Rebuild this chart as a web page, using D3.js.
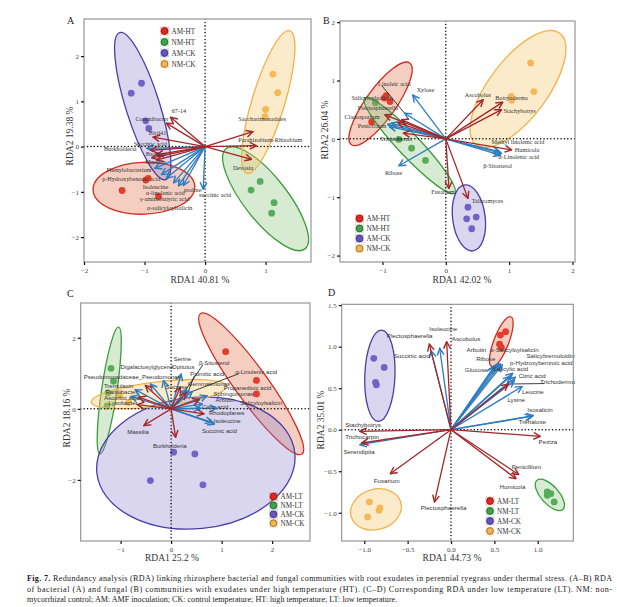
<!DOCTYPE html>
<html><head><meta charset="utf-8">
<script src="https://d3js.org/d3.v7.min.js"></script>
<style>
  body { margin:0; background:#fff; }
  svg { display:block; font-family:"Liberation Serif","Times New Roman",serif; }
</style>
</head>
<body>
<svg id="fig" width="617" height="607"></svg>
<script>
// ---- groups and colours ----
const groupsHT = ["AM-HT","NM-HT","AM-CK","NM-CK"];
const groupsLT = ["AM-LT","NM-LT","AM-CK","NM-CK"];
const ptCol   = ["#e3261f","#3fa34d","#6553c0","#f3b54f"];
const ellFill = ["#e06a45","#84c376","#9084ce","#f6c362"];
const ellLine = ["#d42a20","#3b9c3b","#4a3da6","#f1b24a"];
const arrowCol = {s:"#a3262a", e:"#2e7cc1"};

// ---- panel A: bacteria vs exudates, high temperature ----
const sitesA = [
  ["AM-HT",-1.37,-0.97],["AM-HT",-0.98,-0.74],["AM-HT",-0.94,-0.70],["AM-HT",-0.77,-1.10],
  ["NM-HT",0.91,-0.77],["NM-HT",0.76,-0.96],["NM-HT",1.14,-1.24],["NM-HT",1.10,-1.47],
  ["AM-CK",-1.05,1.40],["AM-CK",-1.22,1.18],["AM-CK",-0.98,0.57],["AM-CK",-0.93,0.40],
  ["NM-CK",1.12,1.60],["NM-CK",1.20,1.19],["NM-CK",1.00,0.82],["NM-CK",0.99,0.66]
];
// group, major axis end 1 (x,y), end 2 (x,y), minor/major ratio
const ellA = [
  ["AM-HT",-1.85,-0.96,-0.17,-0.88,0.51],
  ["NM-HT",0.35,-0.04,1.65,-2.26,0.34],
  ["AM-CK",-1.41,2.52,-0.65,-0.73,0.22],
  ["NM-CK",1.40,2.56,0.69,-0.59,0.22]
];
// name, type (s species / e exudate), arrow tip x,y, label x,y, leader line
const loadA = [
  ["γ-aminobutyric acid","e",-0.52,-0.80,-1.08,-1.16],
  ["α-salicyloylsalicin","e",-0.44,-0.87,-0.96,-1.35],
  ["α-linolenic acid","e",-0.64,-0.70,-0.98,-1.02],
  ["Isoleucine","e",-0.72,-0.62,-1.03,-0.88],
  ["p-Hydroxybenzoic acid","e",-0.83,-0.48,-1.70,-0.71],
  ["Succinic acid","e",-0.96,-0.04,-1.18,0.07],
  ["proline","e",-0.36,-0.86,-0.35,-0.96],
  ["succinic acid","e",-0.03,-0.94,-0.10,-1.07],
  ["67-14","s",-0.57,0.65,-0.55,0.78],
  ["Conexibacter","s",-0.64,0.52,-1.15,0.62],
  ["Blrii41","s",-0.86,0.21,-0.93,0.31],
  ["Burkholderia","s",-0.90,-0.08,-1.67,-0.05],
  ["Bacillus","s",-0.80,-0.18,-0.98,-0.17],
  ["Massilia","s",-0.88,-0.25,-0.99,-0.34],
  ["Phenylobacterium","s",-0.80,-0.30,-1.63,-0.51],
  ["Saccharimonadales","s",0.79,0.33,0.55,0.61],
  ["Parahizobium-Rhizobium","s",0.85,0.02,0.55,0.16],
  ["Devosia","s",0.77,-0.28,0.46,-0.48]
];

// ---- panel B: fungi vs exudates, high temperature ----
const sitesB = [
  ["AM-HT",-0.94,0.74],["AM-HT",-0.88,0.64],["AM-HT",-1.17,0.29],["AM-HT",-0.97,0.70],
  ["NM-HT",-1.11,0.62],["NM-HT",-0.74,-0.01],["NM-HT",-0.54,-0.16],["NM-HT",-0.32,-0.37],
  ["AM-CK",0.35,-1.17],["AM-CK",0.33,-1.37],["AM-CK",0.48,-1.34],["AM-CK",0.41,-1.54],
  ["NM-CK",1.34,1.30],["NM-CK",1.39,0.81],["NM-CK",1.03,0.73],["NM-CK",1.04,0.66]
];
const ellB = [
  ["AM-HT",-0.57,1.30,-1.49,-0.10,0.30],
  ["NM-HT",-1.28,0.70,0.14,-0.93,0.17],
  ["AM-CK",0.30,-0.79,0.43,-1.92,0.49],
  ["NM-CK",1.80,1.81,0.48,-0.10,0.42]
];
const loadB = [
  ["Salicyloylsalicin","e",-0.92,0.25,-1.49,0.71],
  ["","e",-0.89,0.21,-0.89,0.21],
  ["","e",-0.86,0.27,-0.86,0.27],
  ["Linoleic acid","e",-0.65,0.44,-1.07,0.94,1],
  ["Xylose","e",-0.52,0.75,-0.46,0.84],
  ["Ribose","e",-0.74,-0.46,-0.96,-0.59],
  ["Methyl linolenic acid","e",0.85,-0.22,0.72,-0.05],
  ["α-Linolenic acid","e",0.88,-0.25,0.83,-0.30],
  ["β-Sitosterol","e",0.86,-0.28,0.59,-0.46],
  ["Ascobolus","s",0.59,0.67,0.30,0.75],
  ["Botryoderma","s",0.90,0.63,0.78,0.71],
  ["Stachybotrys","s",0.88,0.50,0.91,0.48],
  ["Humicola","s",1.04,-0.19,1.09,-0.19],
  ["Talaromyces","s",0.35,-1.02,0.41,-1.07],
  ["Fusarium","s",0.05,-0.85,-0.23,-0.90],
  ["Trichoderma","s",-0.67,0.10,-1.04,0.00],
  ["Penicillium","s",-0.76,0.28,-1.39,0.22],
  ["Cladosporium","s",-0.70,0.33,-1.60,0.37],
  ["Plectosphaerella","s",-0.96,0.41,-1.39,0.53]
];

// ---- panel C: bacteria vs exudates, low temperature ----
const sitesC = [
  ["AM-LT",1.08,1.61],["AM-LT",1.69,0.80],["AM-LT",1.69,0.42],
  ["NM-LT",-1.19,1.14],["NM-LT",-1.14,0.78],["NM-LT",-1.25,0.45],["NM-LT",-1.27,0.08],
  ["AM-CK",0.05,-1.22],["AM-CK",0.47,-1.27],["AM-CK",-0.41,-2.02],["AM-CK",0.63,-2.14],
  ["NM-CK",-0.84,0.18],["NM-CK",-1.02,0.38]
];
const ellC = [
  ["AM-LT",0.58,2.68,2.59,-1.27,0.19],
  ["NM-LT",-1.04,2.30,-1.41,-1.27,0.12],
  ["AM-CK",-1.47,-1.80,2.45,-1.25,0.66],
  ["NM-CK",-1.58,0.19,1.10,0.64,0.18]
];
const loadC = [
  ["Tremulacin","e",-0.71,0.54,-1.33,0.66],
  ["Ascorbic acid","e",-0.80,0.35,-1.33,0.31],
  ["Digalactosylglycerol","e",-0.41,0.70,-1.00,1.17],
  ["Sucrose","e",-0.15,0.80,-0.11,0.62],
  ["Serine","e",0.20,0.98,0.05,1.41],
  ["Palmitic acid","e",0.35,0.52,0.38,0.99,1],
  ["β-Sitosterol","e",0.30,0.55,0.55,1.30,1],
  ["α-Linolenic acid","e",0.42,0.49,1.27,1.05,1],
  ["Propanedioic acid","e",0.71,0.37,1.04,0.58],
  ["Arbutin","e",0.62,0.14,0.88,0.26],
  ["Salicyloylsalicin","e",0.90,0.02,1.37,0.17],
  ["Citric acid","e",0.58,0.02,0.61,0.05],
  ["Isoleucine","e",0.81,-0.38,0.84,-0.33],
  ["Succinic acid","e",0.86,-0.43,0.61,-0.63],
  ["Pseudomonadaceae_Pseudomonas","s",-0.51,0.66,-1.73,0.89],
  ["Ramlibacter","s",-0.64,0.33,-1.30,0.49],
  ["Lysobacter","s",-0.67,0.12,-1.24,0.16],
  ["Massilia","s",-0.54,-0.47,-0.87,-0.66],
  ["Burkholderia","s",0.09,-0.80,-0.36,-1.03],
  ["Opitutus","s",0.18,0.61,0.02,1.17],
  ["Gemmatimonas","s",0.30,0.45,0.33,0.70],
  ["Sphingomonas","s",0.56,0.26,0.84,0.42],
  ["Rhodoplanes","s",0.65,-0.14,0.75,-0.12]
];

// ---- panel D: fungi vs exudates, low temperature ----
const sitesD = [
  ["AM-LT",0.57,1.14],["AM-LT",0.63,1.18],["AM-LT",0.56,1.03],["AM-LT",0.58,0.99],
  ["NM-LT",1.11,-0.75],["NM-LT",1.11,-0.79],["NM-LT",1.15,-0.77],["NM-LT",1.19,-0.87],
  ["AM-CK",-0.89,0.86],["AM-CK",-0.77,0.75],["AM-CK",-0.87,0.57],["AM-CK",-0.86,0.54],
  ["NM-CK",-0.94,-0.87],["NM-CK",-0.82,-0.94],["NM-CK",-0.83,-0.97],["NM-CK",-0.96,-1.05]
];
const ellD = [
  ["AM-LT",0.69,1.36,0.47,0.76,0.28],
  ["NM-LT",0.99,-0.61,1.29,-0.96,0.46],
  ["AM-CK",-0.80,1.20,-0.84,0.10,0.33],
  ["NM-CK",-1.15,-1.05,-0.58,-0.87,0.78]
];
const loadD = [
  ["Trichocarpin","e",-1.05,-0.18,-1.22,-0.09],
  ["Isoleucine","e",-0.13,0.98,-0.25,1.22],
  ["Succinic acid","e",-0.23,0.95,-0.66,0.89],
  ["Arbutin","e",0.51,0.77,0.18,0.96],
  ["α-Salicyloylsalicin","e",0.55,0.80,0.45,0.96],
  ["Ribose","e",0.57,0.79,0.29,0.85],
  ["Salicyltremuloidin","e",0.59,0.78,0.87,0.89],
  ["Glucose","e",0.49,0.75,0.16,0.72],
  ["p-Hydroxybenzoic acid","e",0.71,0.68,0.68,0.80],
  ["Salicylic acid","e",0.68,0.64,0.48,0.73],
  ["Citric acid","e",0.74,0.63,0.78,0.65],
  ["Leucine","e",0.82,0.52,0.82,0.46],
  ["Lysine","e",0.73,0.59,0.65,0.36],
  ["Isosalicin","e",0.95,0.17,0.88,0.24],
  ["Trehalose","e",0.93,0.16,0.78,0.10],
  ["Stachybotrys","s",-1.05,-0.02,-1.22,0.06],
  ["Serendipita","s",-1.03,-0.16,-1.24,-0.27],
  ["Fusarium","s",-0.70,-0.53,-0.89,-0.61],
  ["Plectosphaerella","s",-0.19,-0.87,-0.35,-0.94],
  ["Plectosphaerella","s",-0.25,1.03,-0.74,1.13],
  ["Ascobolus","s",-0.05,1.06,0.01,1.09],
  ["Peziza","s",1.03,-0.08,1.01,-0.14],
  ["Penicillium","s",0.78,-0.54,0.70,-0.45],
  ["Humicola","s",0.75,-0.59,0.56,-0.69],
  ["Trichoderma","s",0.66,0.55,1.03,0.58,1]
];

const captionLines = [
  "Redundancy analysis (RDA) linking rhizosphere bacterial and fungal communities with root exudates in perennial ryegrass under thermal stress. (A–B) RDA",
  "of bacterial (A) and fungal (B) communities with exudates under high temperature (HT). (C–D) Corresponding RDA under low temperature (LT). NM: non-",
  "mycorrhizal control; AM: AMF inoculation; CK: control temperature; HT: high temperature; LT: low temperature."
];

const svg = d3.select("#fig");
const defs = svg.append("defs");
Object.entries(arrowCol).forEach(([k,c]) => {
  defs.append("marker").attr("id","ah-"+k)
    .attr("viewBox","0 0 10 10").attr("refX",9).attr("refY",5)
    .attr("markerWidth",6.5).attr("markerHeight",6.5).attr("orient","auto")
    .append("path").attr("d","M1,1 L9,5 L1,9")
    .attr("fill","none").attr("stroke",c).attr("stroke-width",1.7);
});

function panel(cfg) {
  const g = svg.append("g");
  const [l,t,r,b] = cfg.rect;
  const x = d3.scaleLinear().domain(cfg.xd).range([l,r]);
  const y = d3.scaleLinear().domain(cfg.yd).range([b,t]);
  const gi = k => cfg.groups.indexOf(k);

  defs.append("clipPath").attr("id","clip"+cfg.letter)
    .append("rect").attr("x",l).attr("y",t).attr("width",r-l).attr("height",b-t);
  const plot = g.append("g").attr("clip-path",`url(#clip${cfg.letter})`);

  plot.selectAll("circle").data(cfg.sites).join("circle")
    .attr("cx",d=>x(d[1])).attr("cy",d=>y(d[2])).attr("r",3.4)
    .attr("fill",d=>ptCol[gi(d[0])]);

  plot.selectAll("ellipse").data(cfg.ells).join("ellipse")
    .each(function(d){
      const x1=x(d[1]), y1=y(d[2]), x2=x(d[3]), y2=y(d[4]);
      const a = Math.hypot(x2-x1,y2-y1)/2;
      const ang = Math.atan2(y2-y1,x2-x1)*180/Math.PI;
      d3.select(this).attr("cx",0).attr("cy",0).attr("rx",a).attr("ry",a*d[5])
        .attr("transform",`translate(${(x1+x2)/2},${(y1+y2)/2}) rotate(${ang})`);
    })
    .attr("fill",d=>ellFill[gi(d[0])]).attr("fill-opacity",0.33)
    .attr("stroke",d=>ellLine[gi(d[0])]).attr("stroke-width",1.3);

  plot.append("line").attr("x1",l).attr("x2",r).attr("y1",y(0)).attr("y2",y(0));
  plot.append("line").attr("x1",x(0)).attr("x2",x(0)).attr("y1",t).attr("y2",b);
  plot.selectAll("line").attr("stroke","#111").attr("stroke-width",1.5)
    .attr("stroke-dasharray","0.1,3.3").attr("stroke-linecap","round");

  // leader lines from labels to arrow tips
  g.selectAll("line.lead").data(cfg.loads.filter(d=>d[6])).join("line").attr("class","lead")
    .attr("x1",d=>x(d[4])+4).attr("y1",d=>y(d[5])+2)
    .attr("x2",d=>x(d[2])).attr("y2",d=>y(d[3]))
    .attr("stroke","#111").attr("stroke-width",0.8);

  const order = cfg.loads.slice().sort((p,q)=>(p[1]===q[1]?0:p[1]==="e"?-1:1));
  g.selectAll("line.arrow").data(order).join("line").attr("class","arrow")
    .attr("x1",x(0)).attr("y1",y(0))
    .attr("x2",d=>x(d[2])).attr("y2",d=>y(d[3]))
    .attr("stroke",d=>arrowCol[d[1]]).attr("stroke-width",1.3)
    .attr("marker-end",d=>`url(#ah-${d[1]})`);

  g.selectAll("text.lab").data(cfg.loads.filter(d=>d[0])).join("text").attr("class","lab")
    .attr("x",d=>x(d[4])).attr("y",d=>y(d[5])).attr("dy","0.35em")
    .attr("font-family",cfg.labFont).attr("font-size",cfg.labSize)
    .attr("fill","#333").text(d=>d[0]);

  g.append("rect").attr("x",l).attr("y",t).attr("width",r-l).attr("height",b-t)
    .attr("fill","none").attr("stroke","#8c8c8c").attr("stroke-width",1.1);

  const fmt = cfg.fmt ? d3.format(cfg.fmt) : d3.format("d");
  const xa = g.append("g").attr("transform",`translate(0,${b})`)
    .call(d3.axisBottom(x).tickValues(cfg.xt).tickSize(3).tickPadding(3).tickFormat(fmt));
  const ya = g.append("g").attr("transform",`translate(${l},0)`)
    .call(d3.axisLeft(y).tickValues(cfg.yt).tickSize(3).tickPadding(2).tickFormat(fmt));
  [xa,ya].forEach(a=>{
    a.select(".domain").remove();
    a.selectAll(".tick line").attr("stroke","#111").attr("stroke-width",1.2);
    a.selectAll(".tick text").attr("font-family","Liberation Serif, serif")
      .attr("font-size",7).attr("fill","#444");
  });

  g.append("text").attr("x",cfg.xTitle[0]).attr("y",cfg.xTitle[1]).attr("text-anchor","middle")
    .attr("font-size",9.5).attr("fill","#333").text(cfg.xTitle[2]);
  g.append("text").attr("transform",`translate(${cfg.yTitle[0]},${cfg.yTitle[1]}) rotate(-90)`)
    .attr("text-anchor","middle").attr("font-size",9.5).attr("fill","#333").text(cfg.yTitle[2]);
  g.append("text").attr("x",cfg.letterPos[0]).attr("y",cfg.letterPos[1])
    .attr("font-size",10).attr("fill","#222").text(cfg.letter);

  const [lx,ly,ldy] = cfg.legend;
  const leg = g.selectAll("g.leg").data(cfg.groups).join("g").attr("class","leg")
    .attr("transform",(d,i)=>`translate(${lx},${ly+i*ldy})`);
  leg.append("rect").attr("x",-4.5).attr("y",-4.5).attr("width",9).attr("height",9)
    .attr("fill",(d,i)=>ellFill[i]).attr("fill-opacity",0.33);
  leg.append("circle").attr("r",3.4).attr("fill",(d,i)=>ptCol[i])
    .attr("stroke",(d,i)=>d3.color(ptCol[i]).darker(1.4)).attr("stroke-width",0.9);
  leg.append("text").attr("x",7).attr("dy","0.35em").attr("font-size",7.2)
    .attr("fill","#333").text(d=>d);
}

panel({letter:"A", rect:[84,19,311,262], xd:[-2,1.75], yd:[-2.55,2.82],
  xt:[-2,-1,0,1], yt:[-2,-1,0,1,2], groups:groupsHT,
  sites:sitesA, ells:ellA, loads:loadA, labFont:"Liberation Serif, serif", labSize:6.2,
  xTitle:[200,283,"RDA1 40.81 %"], yTitle:[73,136,"RDA2 19.38 %"], letterPos:[67,24],
  legend:[164.5,31,11]});
panel({letter:"B", rect:[340,21,575,262], xd:[-1.67,2.04], yd:[-2.11,2.02],
  xt:[-1,0,1,2], yt:[-2,-1,0,1,2], groups:groupsHT,
  sites:sitesB, ells:ellB, loads:loadB, labFont:"Liberation Serif, serif", labSize:6.2,
  xTitle:[462,283,"RDA1 42.02 %"], yTitle:[328,130,"RDA2 26.04 %"], letterPos:[323,24],
  legend:[359.5,218.5,10]});
panel({letter:"C", rect:[80.7,303,310,541], xd:[-1.79,2.75], yd:[-3.72,2.98],
  xt:[-1,0,1,2], yt:[-2,0,2], groups:groupsLT,
  sites:sitesC, ells:ellC, loads:loadC, labFont:"Liberation Sans, Arial, sans-serif", labSize:6,
  xTitle:[172,561,"RDA1 25.2 %"], yTitle:[70,418,"RDA2 18.16 %"], letterPos:[67,297],
  legend:[273.5,496.5,8.9]});
panel({letter:"D", rect:[341.7,304.3,573.3,541], xd:[-1.26,1.41], yd:[-1.34,1.51],
  xt:[-1,-0.5,0,0.5,1], yt:[-1,-0.5,0,0.5,1,1.5], fmt:".1f", groups:groupsLT,
  sites:sitesD, ells:ellD, loads:loadD, labFont:"Liberation Sans, Arial, sans-serif", labSize:6.2,
  xTitle:[452,561,"RDA1 44.73 %"], yTitle:[324,420,"RDA2 35.01 %"], letterPos:[328,296],
  legend:[490,501,10]});

// caption
const cap = svg.append("g").attr("font-size",8.1).attr("fill","#1a1a1a");
captionLines.forEach((s,i)=>{
  const tx = cap.append("text").attr("x",27).attr("y",581+i*10.5);
  if (i===0) tx.append("tspan").attr("font-weight","bold").text("Fig. 7. ");
  tx.append("tspan").text(s);
  if (i<2) tx.attr("textLength",585).attr("lengthAdjust","spacing");
});
</script>
</body>
</html>
